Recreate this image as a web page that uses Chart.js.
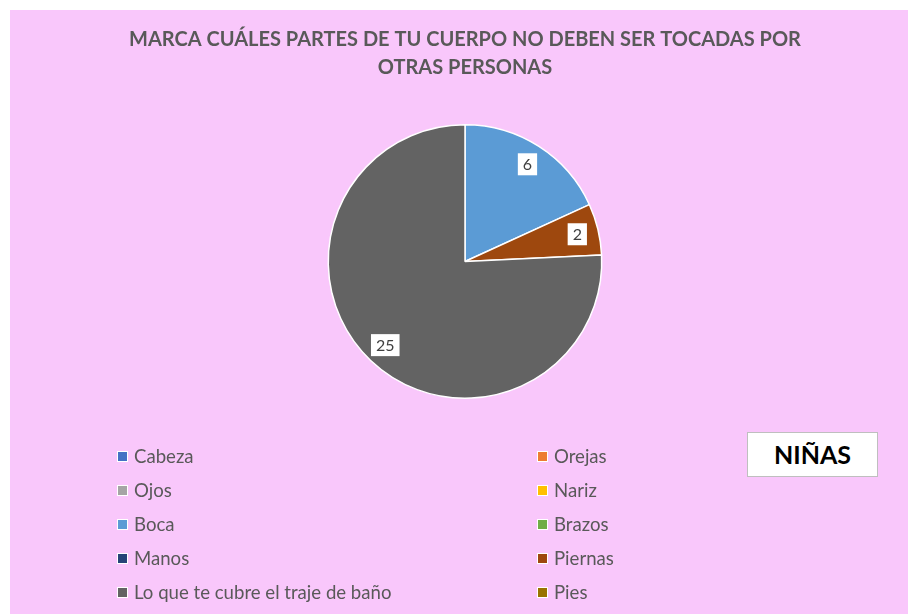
<!DOCTYPE html>
<html>
<head>
<meta charset="utf-8">
<script src="https://cdn.jsdelivr.net/npm/chart.js@4"></script>
<style>
  html, body { margin: 0; padding: 0; background: #fff; }
  #fondo { position: absolute; left: 10px; top: 10px; width: 898px; height: 604px; background: #f9c7fb; }
  #caja { position: absolute; left: 0; top: 0; width: 908px; height: 614px; }
  .item { position: absolute; font-family: Lato, sans-serif; font-size: 18.6px; color: #595959; line-height: 22px; white-space: nowrap; }
  .item span { display: inline-block; width: 9px; height: 9px; border: 1px solid #fff; margin-right: 6px; vertical-align: 1px; }
  #ninas { position: absolute; left: 747px; top: 432px; width: 129px; height: 43px; background: #fff; border: 1px solid #bfbfbf;
    font-family: Lato, sans-serif; font-weight: bold; font-size: 25px; color: #000; text-align: center; line-height: 43px; }
</style>
</head>
<body>
<div id="fondo"></div>
<div id="caja"><canvas id="grafico" width="908" height="614"></canvas></div>
<div id="leyenda"></div>
<div id="ninas">NIÑAS</div>
<script>
const titulo = ['MARCA CUÁLES PARTES DE TU CUERPO NO DEBEN SER TOCADAS POR', 'OTRAS PERSONAS'];
const partes = ['Cabeza', 'Orejas', 'Ojos', 'Nariz', 'Boca', 'Brazos', 'Manos', 'Piernas', 'Lo que te cubre el traje de baño', 'Pies'];
const respuestas = [0, 0, 0, 0, 6, 0, 0, 2, 25, 0];
const colores = ['#4472c4', '#ed7d31', '#a5a5a5', '#ffc000', '#5b9bd5', '#70ad47', '#264478', '#9e480e', '#636363', '#997300'];

// etiquetas blancas con el valor de cada porción
const etiquetas = {
  id: 'etiquetas',
  afterDatasetsDraw(chart) {
    const ctx = chart.ctx;
    const meta = chart.getDatasetMeta(0);
    ctx.save();
    ctx.font = '16px Lato, sans-serif';
    ctx.textAlign = 'center';
    ctx.textBaseline = 'middle';
    meta.data.forEach((arc, i) => {
      const v = respuestas[i];
      if (!v) return;
      const p = arc.getProps(['x', 'y', 'startAngle', 'endAngle', 'outerRadius']);
      const a = (p.startAngle + p.endAngle) / 2;
      const r = p.outerRadius * 0.845;
      const x = p.x + Math.cos(a) * r;
      const y = p.y + Math.sin(a) * r;
      const txt = String(v);
      const w = ctx.measureText(txt).width + 10;
      ctx.fillStyle = '#fff';
      ctx.fillRect(x - w / 2, y - 11, w, 22);
      ctx.fillStyle = '#404040';
      ctx.fillText(txt, x, y + 1);
    });
    ctx.restore();
  }
};

const chart = new Chart(document.getElementById('grafico'), {
  type: 'pie',
  data: {
    labels: partes,
    datasets: [{
      data: respuestas,
      backgroundColor: colores,
      borderColor: '#fff',
      borderWidth: 1.5
    }]
  },
  options: {
    responsive: false,
    animation: false,
    layout: { padding: { left: 22, right: 0, top: 0, bottom: 215 } },
    plugins: {
      legend: { display: false },
      tooltip: { enabled: false },
      title: {
        display: true,
        text: titulo,
        color: '#595959',
        font: { family: 'Lato, sans-serif', size: 20, weight: 'bold', lineHeight: 1.4 },
        padding: { top: 26, bottom: 42 }
      }
    }
  },
  plugins: [etiquetas]
});

// leyenda en dos columnas
const leyenda = document.getElementById('leyenda');
partes.forEach((nombre, i) => {
  const d = document.createElement('div');
  d.className = 'item';
  d.style.left = (i % 2 === 0 ? 117 : 537) + 'px';
  d.style.top = (445 + Math.floor(i / 2) * 34) + 'px';
  d.innerHTML = '<span style="background:' + colores[i] + '"></span>' + nombre;
  leyenda.appendChild(d);
});
</script>
</body>
</html>
